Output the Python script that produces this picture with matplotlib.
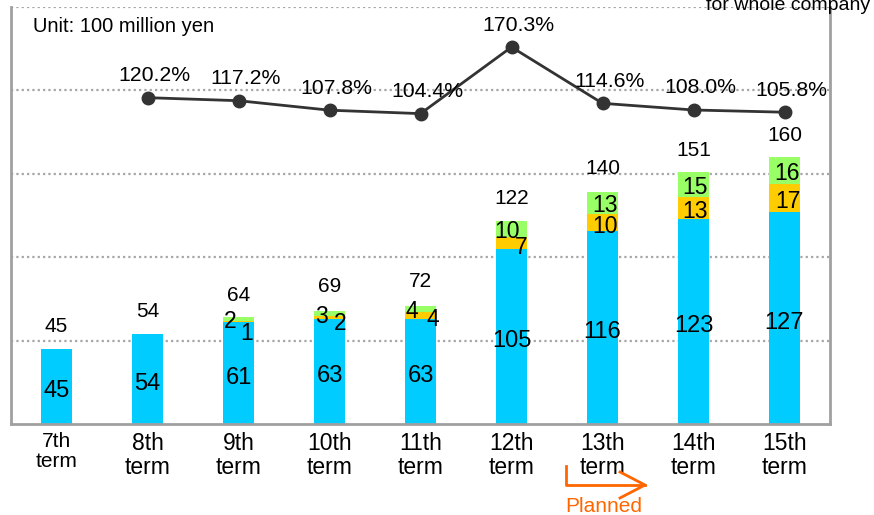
import matplotlib
matplotlib.use('Agg')
import matplotlib.pyplot as plt
from matplotlib.lines import Line2D

plt.rcParams['font.family'] = ['Liberation Sans', 'DejaVu Sans']

# ---------------- data ----------------
terms = ['7th\nterm', '8th\nterm', '9th\nterm', '10th\nterm', '11th\nterm',
         '12th\nterm', '13th\nterm', '14th\nterm', '15th\nterm']
base_vals = [45, 54, 61, 63, 63, 105, 116, 123, 127]
mid_vals = [0, 0, 1, 2, 4, 7, 10, 13, 17]
top_vals = [0, 0, 2, 3, 4, 10, 13, 15, 16]
totals = [45, 54, 64, 69, 72, 122, 140, 151, 160]
growth = [None, 120.2, 117.2, 107.8, 104.4, 170.3, 114.6, 108.0, 105.8]
grid_levels = [50, 100, 150, 200, 250]

# ---------------- style ----------------
C_BASE = '#00CCFF'
C_MID = '#FFCC00'
C_TOP = '#99FF66'
C_LINE = '#333333'
C_GRID = '#A6A6A6'
C_ORANGE = '#FF6600'

# label offsets in pixels (styling only)
top_dx = [0, 0, -8, -8, -9, -5, 3, 2, 3]
top_dy = [0, 0, -3, -3, -3, -3, -3, -3, -3]
mid_dx = [0, 0, 8, 11, 12, 10, 3, 2, 3]
mid_dy = [0, 0, -12, -6, -4, -4, -4, -4, -4]

W, H = 874, 515
fig = plt.figure(figsize=(W / 100, H / 100), dpi=100)
ax = fig.add_axes([11 / W, (H - 424) / H, 819 / W, (424 - 7) / H])

x = list(range(len(terms)))
bw = 0.34
bottoms2 = [b + m for b, m in zip(base_vals, mid_vals)]
ax.bar(x, base_vals, width=bw, color=C_BASE, zorder=2)
ax.bar(x, mid_vals, width=bw, bottom=base_vals, color=C_MID, zorder=2)
ax.bar(x, top_vals, width=bw, bottom=bottoms2, color=C_TOP, zorder=2)

ax.set_xlim(-0.5, len(terms) - 0.5)
ax.set_ylim(0, 250)
for g in grid_levels:
    ax.axhline(g, color=C_GRID, linestyle=(0, (1, 1.4)), linewidth=1.6, zorder=1)
ax.set_yticks([])
ax.set_xticks(x)
ax.set_xticklabels(terms, fontsize=16.5, linespacing=1.05)
ax.tick_params(axis='x', length=0, pad=6)
ax.get_xticklabels()[0].set_fontsize(15)

for s in ['left', 'bottom', 'right']:
    ax.spines[s].set_color('#A0A0A0')
    ax.spines[s].set_linewidth(2)
ax.spines['top'].set_visible(False)

# value labels
for i in x:
    ax.annotate(str(base_vals[i]), (i, base_vals[i] / 2), xytext=(0, -5),
                textcoords='offset pixels', ha='center', va='center', fontsize=17)
    ax.annotate(str(totals[i]), (i, totals[i]), xytext=(0, 22),
                textcoords='offset pixels', ha='center', va='center', fontsize=15)
    if top_vals[i]:
        ax.annotate(str(top_vals[i]), (i, bottoms2[i] + top_vals[i] / 2),
                    xytext=(top_dx[i], top_dy[i]), textcoords='offset pixels',
                    ha='center', va='center', fontsize=16.5)
    if mid_vals[i]:
        ax.annotate(str(mid_vals[i]), (i, base_vals[i] + mid_vals[i] / 2),
                    xytext=(mid_dx[i], mid_dy[i]), textcoords='offset pixels',
                    ha='center', va='center', fontsize=16.5)

ax.text(22 / 819, 1 - (27 - 7) / 417, 'Unit: 100 million yen', transform=ax.transAxes,
        ha='left', va='center', fontsize=14.5)

# growth line on secondary axis
ax2 = ax.twinx()
ax2.set_ylim(-203, 210)
gx = [i for i in x if growth[i] is not None]
gy = [growth[i] for i in gx]
ax2.plot(gx, gy, color=C_LINE, linewidth=2, marker='o', markersize=9, zorder=3)
for xi, yi in zip(gx, gy):
    ax2.annotate(f'{yi:.1f}%', (xi, yi), xytext=(7, 22), textcoords='offset pixels',
                 ha='center', va='center', fontsize=15.3)
ax2.axis('off')

# "for whole company" (clipped at top edge, as in the original)
fig.text(870 / W, 1 - 10 / H, 'for whole company', ha='right', va='baseline',
         fontsize=14)

# Planned arrow
def px(xp, yp):
    return xp / W, 1 - yp / H

xs, ys = zip(px(566, 466), px(566, 485), px(645, 485))
fig.add_artist(Line2D(xs, ys, color=C_ORANGE, linewidth=2, transform=fig.transFigure))
xs, ys = zip(px(620, 472), px(645, 485), px(620, 498))
fig.add_artist(Line2D(xs, ys, color=C_ORANGE, linewidth=2, transform=fig.transFigure))
fig.text(604 / W, 1 - 507 / H, 'Planned', color=C_ORANGE, ha='center', va='center',
         fontsize=15)

fig.savefig('out.png', dpi=100)
